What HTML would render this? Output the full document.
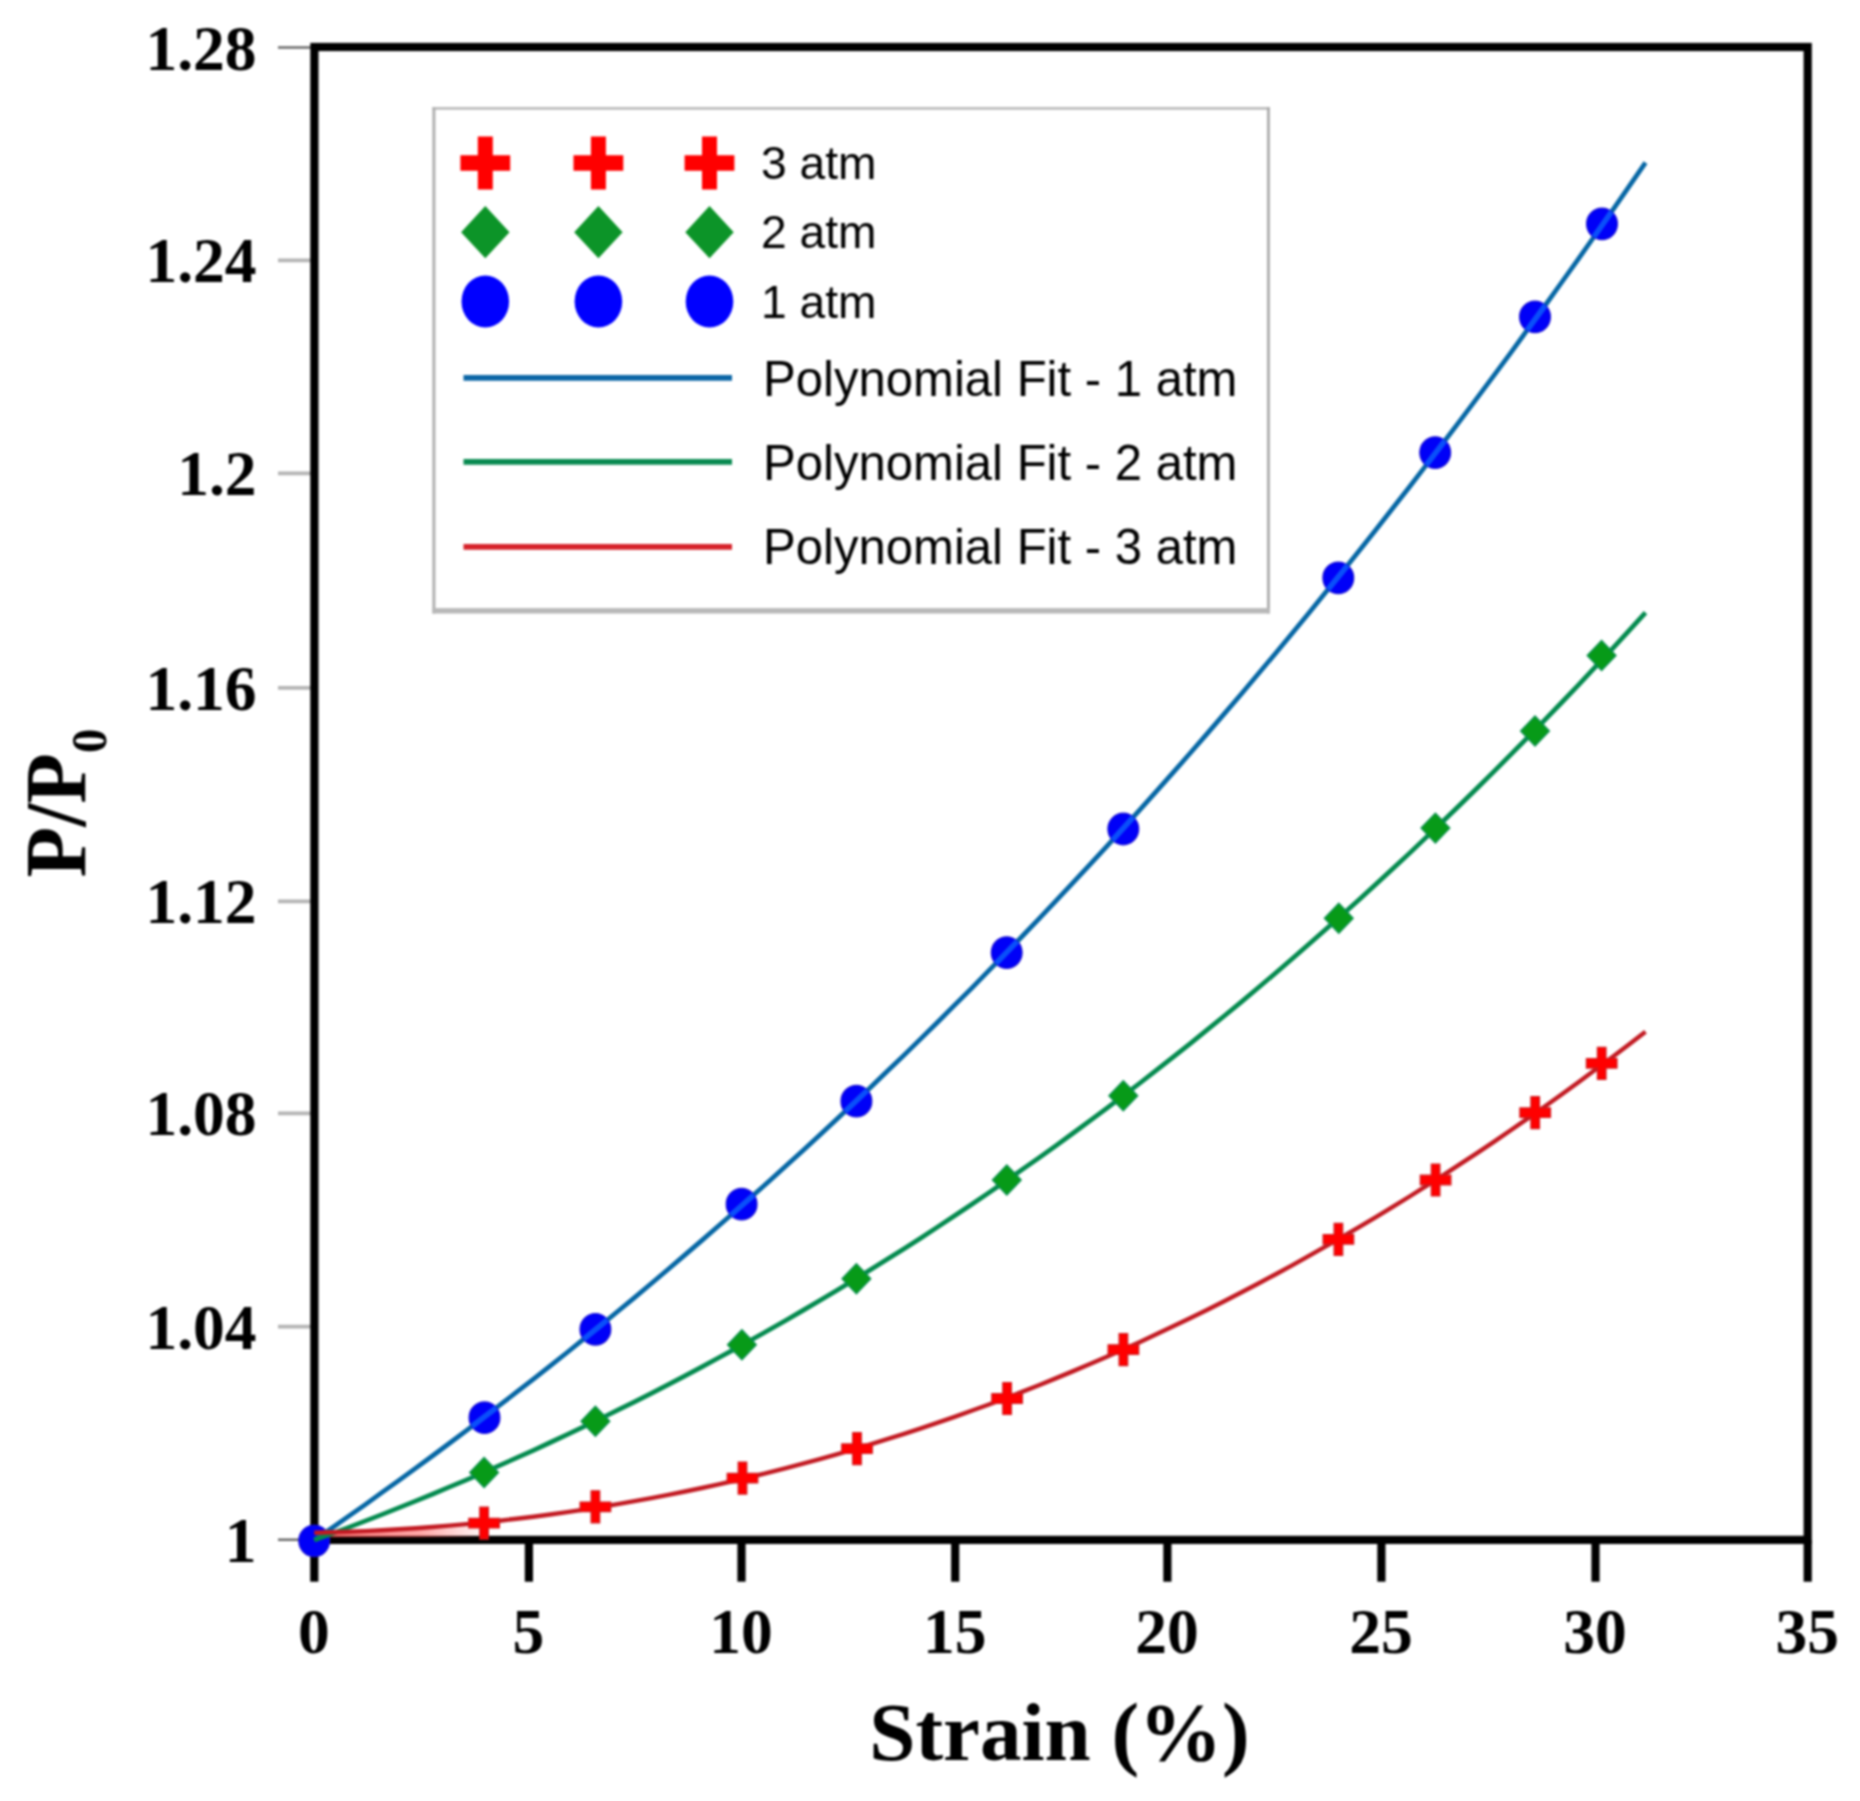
<!DOCTYPE html>
<html lang="en"><head><meta charset="utf-8"><title>P/P0 vs Strain</title>
<style>
html,body{margin:0;padding:0;background:#fff;}
body{width:1860px;height:1801px;overflow:hidden;}
svg{display:block;}
.tk{font-family:"Liberation Serif",serif;font-weight:bold;font-size:63.5px;fill:#000;}
.ax{font-family:"Liberation Serif",serif;font-weight:bold;font-size:83px;fill:#000;}
.lg{font-family:"Liberation Sans",sans-serif;font-size:46.2px;fill:#000;}
.lp{font-family:"Liberation Sans",sans-serif;font-size:50.5px;fill:#000;}
</style></head><body>
<svg width="1860" height="1801" viewBox="0 0 1860 1801">
<defs><filter id="soft" x="0" y="0" width="1860" height="1801" filterUnits="userSpaceOnUse" color-interpolation-filters="sRGB"><feGaussianBlur stdDeviation="1"/></filter></defs>
<rect x="0" y="0" width="1860" height="1801" fill="#ffffff"/>
<g filter="url(#soft)">
<rect x="0" y="0" width="1860" height="1801" fill="#ffffff"/>

<g id="yticks">
<line x1="278" y1="1539.7" x2="311" y2="1539.7" stroke="#6a6a6a" stroke-width="2.6"/>
<text class="tk" x="256.5" y="1561.7" text-anchor="end">1</text>
<line x1="278" y1="1326.7" x2="311" y2="1326.7" stroke="#b4b4b4" stroke-width="3.8"/>
<text class="tk" x="256.5" y="1348.7" text-anchor="end">1.04</text>
<line x1="278" y1="1113.3" x2="311" y2="1113.3" stroke="#b4b4b4" stroke-width="3.8"/>
<text class="tk" x="256.5" y="1135.3" text-anchor="end">1.08</text>
<line x1="278" y1="901.3" x2="311" y2="901.3" stroke="#b4b4b4" stroke-width="3.8"/>
<text class="tk" x="256.5" y="923.3" text-anchor="end">1.12</text>
<line x1="278" y1="687.8" x2="311" y2="687.8" stroke="#b4b4b4" stroke-width="3.8"/>
<text class="tk" x="256.5" y="709.8" text-anchor="end">1.16</text>
<line x1="278" y1="473.3" x2="311" y2="473.3" stroke="#b4b4b4" stroke-width="3.8"/>
<text class="tk" x="256.5" y="495.3" text-anchor="end">1.2</text>
<line x1="278" y1="260.4" x2="311" y2="260.4" stroke="#b4b4b4" stroke-width="3.8"/>
<text class="tk" x="256.5" y="282.4" text-anchor="end">1.24</text>
<line x1="278" y1="47.5" x2="311" y2="47.5" stroke="#6a6a6a" stroke-width="2.6"/>
<text class="tk" x="256.5" y="69.5" text-anchor="end">1.28</text>
</g>
<g id="xticks">
<line x1="314.3" y1="1540" x2="314.3" y2="1581.7" stroke="#000" stroke-width="8.2"/>
<text class="tk" x="313.8" y="1653" text-anchor="middle">0</text>
<line x1="528.9" y1="1540" x2="528.9" y2="1581.7" stroke="#000" stroke-width="8.2"/>
<text class="tk" x="528.4" y="1653" text-anchor="middle">5</text>
<line x1="741.5" y1="1540" x2="741.5" y2="1581.7" stroke="#000" stroke-width="8.2"/>
<text class="tk" x="741.0" y="1653" text-anchor="middle">10</text>
<line x1="955.2" y1="1540" x2="955.2" y2="1581.7" stroke="#000" stroke-width="8.2"/>
<text class="tk" x="954.7" y="1653" text-anchor="middle">15</text>
<line x1="1167.4" y1="1540" x2="1167.4" y2="1581.7" stroke="#000" stroke-width="8.2"/>
<text class="tk" x="1166.9" y="1653" text-anchor="middle">20</text>
<line x1="1381.4" y1="1540" x2="1381.4" y2="1581.7" stroke="#000" stroke-width="8.2"/>
<text class="tk" x="1380.9" y="1653" text-anchor="middle">25</text>
<line x1="1595.5" y1="1540" x2="1595.5" y2="1581.7" stroke="#000" stroke-width="8.2"/>
<text class="tk" x="1595.0" y="1653" text-anchor="middle">30</text>
<line x1="1807.7" y1="1540" x2="1807.7" y2="1581.7" stroke="#000" stroke-width="8.2"/>
<text class="tk" x="1807.2" y="1653" text-anchor="middle">35</text>
</g>
<rect x="314.4" y="47.0" width="1493.3" height="1492.9" fill="none" stroke="#000" stroke-width="8.2"/>
<text class="ax" x="1059.5" y="1760.3" text-anchor="middle">Strain (%)</text>
<text class="ax" transform="translate(85.3,877.5) rotate(-90) scale(1,1.055)" x="0" y="0">P/P<tspan font-size="48.5px" dy="19.2">0</tspan></text>
<ellipse cx="314.2" cy="1540.8" rx="15.4" ry="15.8" fill="#0000f8" stroke="#1a10d0" stroke-width="1.2"/>
<defs><linearGradient id="pk" x1="318" y1="0" x2="490" y2="0" gradientUnits="userSpaceOnUse"><stop offset="0" stop-color="#ff4848" stop-opacity="0.75"/><stop offset="0.6" stop-color="#ff5050" stop-opacity="0.5"/><stop offset="1" stop-color="#ff6060" stop-opacity="0"/></linearGradient></defs>
<path d="M318,1537.2L318,1532.5L400,1529.4L490,1523L490,1537.2z" fill="url(#pk)"/>
<path d="M314.3,1540.1 L331.2,1528.5 L348.0,1516.7 L364.9,1504.8 L381.7,1492.7 L398.6,1480.6 L415.4,1468.4 L432.3,1456.0 L449.1,1443.5 L466.0,1430.9 L482.8,1418.1 L499.7,1405.2 L516.5,1392.2 L533.4,1379.1 L550.2,1365.8 L567.1,1352.5 L583.9,1338.9 L600.8,1325.3 L617.6,1311.5 L634.5,1297.6 L651.3,1283.5 L668.2,1269.3 L685.0,1254.9 L701.9,1240.4 L718.7,1225.8 L735.6,1211.0 L752.4,1196.1 L769.3,1181.0 L786.1,1165.8 L803.0,1150.5 L819.8,1135.0 L836.7,1119.3 L853.5,1103.5 L870.4,1087.5 L887.2,1071.3 L904.1,1055.1 L920.9,1038.6 L937.8,1022.0 L954.6,1005.2 L971.5,988.3 L988.3,971.2 L1005.2,953.9 L1022.0,936.5 L1038.9,918.9 L1055.7,901.1 L1072.6,883.2 L1089.4,865.1 L1106.3,846.8 L1123.1,828.4 L1140.0,809.7 L1156.8,790.9 L1173.7,771.9 L1190.5,752.8 L1207.4,733.4 L1224.2,713.9 L1241.1,694.2 L1257.9,674.3 L1274.8,654.2 L1291.6,633.9 L1308.5,613.5 L1325.3,592.8 L1342.2,572.0 L1359.0,551.0 L1375.9,529.7 L1392.7,508.3 L1409.6,486.7 L1426.4,464.9 L1443.3,442.8 L1460.1,420.6 L1477.0,398.2 L1493.8,375.6 L1510.7,352.8 L1527.5,329.7 L1544.4,306.5 L1561.2,283.0 L1578.1,259.4 L1594.9,235.5 L1611.8,211.4 L1628.6,187.1 L1645.5,162.6" fill="none" stroke="#0566a4" stroke-width="4.7"/>
<path d="M314.3,1540.1 L331.2,1533.9 L348.0,1527.6 L364.9,1521.1 L381.7,1514.6 L398.6,1507.9 L415.4,1501.1 L432.3,1494.2 L449.1,1487.2 L466.0,1480.1 L482.8,1472.8 L499.7,1465.4 L516.5,1457.9 L533.4,1450.3 L550.2,1442.5 L567.1,1434.7 L583.9,1426.6 L600.8,1418.5 L617.6,1410.2 L634.5,1401.8 L651.3,1393.3 L668.2,1384.7 L685.0,1375.9 L701.9,1366.9 L718.7,1357.8 L735.6,1348.6 L752.4,1339.3 L769.3,1329.8 L786.1,1320.2 L803.0,1310.4 L819.8,1300.5 L836.7,1290.4 L853.5,1280.2 L870.4,1269.8 L887.2,1259.3 L904.1,1248.7 L920.9,1237.9 L937.8,1226.9 L954.6,1215.8 L971.5,1204.5 L988.3,1193.1 L1005.2,1181.5 L1022.0,1169.7 L1038.9,1157.8 L1055.7,1145.8 L1072.6,1133.5 L1089.4,1121.1 L1106.3,1108.6 L1123.1,1095.9 L1140.0,1083.0 L1156.8,1069.9 L1173.7,1056.7 L1190.5,1043.3 L1207.4,1029.7 L1224.2,1016.0 L1241.1,1002.1 L1257.9,988.0 L1274.8,973.7 L1291.6,959.3 L1308.5,944.6 L1325.3,929.8 L1342.2,914.8 L1359.0,899.7 L1375.9,884.3 L1392.7,868.8 L1409.6,853.1 L1426.4,837.1 L1443.3,821.0 L1460.1,804.7 L1477.0,788.3 L1493.8,771.6 L1510.7,754.7 L1527.5,737.7 L1544.4,720.4 L1561.2,703.0 L1578.1,685.3 L1594.9,667.4 L1611.8,649.4 L1628.6,631.1 L1645.5,612.7" fill="none" stroke="#038a4e" stroke-width="4.7"/>
<path d="M314.3,1532.7 L331.2,1532.3 L348.0,1531.8 L364.9,1531.1 L381.7,1530.3 L398.6,1529.3 L415.4,1528.2 L432.3,1527.0 L449.1,1525.6 L466.0,1524.1 L482.8,1522.5 L499.7,1520.7 L516.5,1518.7 L533.4,1516.7 L550.2,1514.5 L567.1,1512.1 L583.9,1509.6 L600.8,1507.0 L617.6,1504.2 L634.5,1501.2 L651.3,1498.1 L668.2,1494.9 L685.0,1491.5 L701.9,1488.0 L718.7,1484.3 L735.6,1480.5 L752.4,1476.5 L769.3,1472.4 L786.1,1468.1 L803.0,1463.7 L819.8,1459.1 L836.7,1454.4 L853.5,1449.5 L870.4,1444.4 L887.2,1439.2 L904.1,1433.9 L920.9,1428.3 L937.8,1422.7 L954.6,1416.8 L971.5,1410.8 L988.3,1404.7 L1005.2,1398.4 L1022.0,1391.9 L1038.9,1385.2 L1055.7,1378.4 L1072.6,1371.4 L1089.4,1364.3 L1106.3,1357.0 L1123.1,1349.5 L1140.0,1341.9 L1156.8,1334.1 L1173.7,1326.1 L1190.5,1318.0 L1207.4,1309.7 L1224.2,1301.2 L1241.1,1292.5 L1257.9,1283.7 L1274.8,1274.7 L1291.6,1265.6 L1308.5,1256.2 L1325.3,1246.7 L1342.2,1237.0 L1359.0,1227.1 L1375.9,1217.1 L1392.7,1206.9 L1409.6,1196.5 L1426.4,1185.9 L1443.3,1175.1 L1460.1,1164.2 L1477.0,1153.1 L1493.8,1141.8 L1510.7,1130.3 L1527.5,1118.6 L1544.4,1106.8 L1561.2,1094.7 L1578.1,1082.5 L1594.9,1070.1 L1611.8,1057.5 L1628.6,1044.7 L1645.5,1031.8" fill="none" stroke="#c21a22" stroke-width="4.4"/>
<g id="markers">
<path d="M479.8,1507.2h8.6v11.2h11.0v9.6h-11.0v11.2h-8.6v-11.2h-11.0v-9.6h11.0z" fill="#ff0000" stroke="#cf1a1f" stroke-width="1.2"/>
<path d="M591.1,1490.8h8.6v11.2h11.0v9.6h-11.0v11.2h-8.6v-11.2h-11.0v-9.6h11.0z" fill="#ff0000" stroke="#cf1a1f" stroke-width="1.2"/>
<path d="M738.2,1462.1h8.6v11.2h11.0v9.6h-11.0v11.2h-8.6v-11.2h-11.0v-9.6h11.0z" fill="#ff0000" stroke="#cf1a1f" stroke-width="1.2"/>
<path d="M852.7,1432.7h8.6v11.2h11.0v9.6h-11.0v11.2h-8.6v-11.2h-11.0v-9.6h11.0z" fill="#ff0000" stroke="#cf1a1f" stroke-width="1.2"/>
<path d="M1002.8,1382.5h8.6v11.2h11.0v9.6h-11.0v11.2h-8.6v-11.2h-11.0v-9.6h11.0z" fill="#ff0000" stroke="#cf1a1f" stroke-width="1.2"/>
<path d="M1119.1,1333.6h8.6v11.2h11.0v9.6h-11.0v11.2h-8.6v-11.2h-11.0v-9.6h11.0z" fill="#ff0000" stroke="#cf1a1f" stroke-width="1.2"/>
<path d="M1334.1,1223.3h8.6v11.2h11.0v9.6h-11.0v11.2h-8.6v-11.2h-11.0v-9.6h11.0z" fill="#ff0000" stroke="#cf1a1f" stroke-width="1.2"/>
<path d="M1431.3,1164.0h8.6v11.2h11.0v9.6h-11.0v11.2h-8.6v-11.2h-11.0v-9.6h11.0z" fill="#ff0000" stroke="#cf1a1f" stroke-width="1.2"/>
<path d="M1530.9,1096.7h8.6v11.2h11.0v9.6h-11.0v11.2h-8.6v-11.2h-11.0v-9.6h11.0z" fill="#ff0000" stroke="#cf1a1f" stroke-width="1.2"/>
<path d="M1597.4,1047.3h8.6v11.2h11.0v9.6h-11.0v11.2h-8.6v-11.2h-11.0v-9.6h11.0z" fill="#ff0000" stroke="#cf1a1f" stroke-width="1.2"/>
<path d="M484.1,1457.5L498.5,1472.5L484.1,1487.5L469.7,1472.5z" fill="#079a18" stroke="#089050" stroke-width="1.3"/>
<path d="M595.4,1406.2L609.8,1421.2L595.4,1436.2L581.0,1421.2z" fill="#079a18" stroke="#089050" stroke-width="1.3"/>
<path d="M741.9,1329.8L756.3,1344.8L741.9,1359.8L727.5,1344.8z" fill="#079a18" stroke="#089050" stroke-width="1.3"/>
<path d="M856.4,1263.7L870.8,1278.7L856.4,1293.7L842.0,1278.7z" fill="#079a18" stroke="#089050" stroke-width="1.3"/>
<path d="M1006.8,1165.0L1021.2,1180.0L1006.8,1195.0L992.4,1180.0z" fill="#079a18" stroke="#089050" stroke-width="1.3"/>
<path d="M1123.3,1080.8L1137.7,1095.8L1123.3,1110.8L1108.9,1095.8z" fill="#079a18" stroke="#089050" stroke-width="1.3"/>
<path d="M1338.8,903.3L1353.2,918.3L1338.8,933.3L1324.4,918.3z" fill="#079a18" stroke="#089050" stroke-width="1.3"/>
<path d="M1435.4,813.1L1449.8,828.1L1435.4,843.1L1421.0,828.1z" fill="#079a18" stroke="#089050" stroke-width="1.3"/>
<path d="M1535.0,716.0L1549.4,731.0L1535.0,746.0L1520.6,731.0z" fill="#079a18" stroke="#089050" stroke-width="1.3"/>
<path d="M1601.6,640.5L1616.0,655.5L1601.6,670.5L1587.2,655.5z" fill="#079a18" stroke="#089050" stroke-width="1.3"/>
<clipPath id="cc">
<ellipse cx="484.5" cy="1417.7" rx="15.4" ry="15.8"/>
<ellipse cx="595.4" cy="1329.3" rx="15.4" ry="15.8"/>
<ellipse cx="741.6" cy="1204.2" rx="15.4" ry="15.8"/>
<ellipse cx="856.4" cy="1101.2" rx="15.4" ry="15.8"/>
<ellipse cx="1006.7" cy="952.6" rx="15.4" ry="15.8"/>
<ellipse cx="1123.3" cy="829.0" rx="15.4" ry="15.8"/>
<ellipse cx="1338.3" cy="577.9" rx="15.4" ry="15.8"/>
<ellipse cx="1435.2" cy="452.6" rx="15.4" ry="15.8"/>
<ellipse cx="1535.0" cy="316.9" rx="15.4" ry="15.8"/>
<ellipse cx="1602.0" cy="223.9" rx="15.4" ry="15.8"/>
</clipPath>
<ellipse cx="484.5" cy="1417.7" rx="15.4" ry="15.8" fill="#0000f8" stroke="#1a10d0" stroke-width="1.2"/>
<ellipse cx="595.4" cy="1329.3" rx="15.4" ry="15.8" fill="#0000f8" stroke="#1a10d0" stroke-width="1.2"/>
<ellipse cx="741.6" cy="1204.2" rx="15.4" ry="15.8" fill="#0000f8" stroke="#1a10d0" stroke-width="1.2"/>
<ellipse cx="856.4" cy="1101.2" rx="15.4" ry="15.8" fill="#0000f8" stroke="#1a10d0" stroke-width="1.2"/>
<ellipse cx="1006.7" cy="952.6" rx="15.4" ry="15.8" fill="#0000f8" stroke="#1a10d0" stroke-width="1.2"/>
<ellipse cx="1123.3" cy="829.0" rx="15.4" ry="15.8" fill="#0000f8" stroke="#1a10d0" stroke-width="1.2"/>
<ellipse cx="1338.3" cy="577.9" rx="15.4" ry="15.8" fill="#0000f8" stroke="#1a10d0" stroke-width="1.2"/>
<ellipse cx="1435.2" cy="452.6" rx="15.4" ry="15.8" fill="#0000f8" stroke="#1a10d0" stroke-width="1.2"/>
<ellipse cx="1535.0" cy="316.9" rx="15.4" ry="15.8" fill="#0000f8" stroke="#1a10d0" stroke-width="1.2"/>
<ellipse cx="1602.0" cy="223.9" rx="15.4" ry="15.8" fill="#0000f8" stroke="#1a10d0" stroke-width="1.2"/>
<path d="M314.3,1540.1 L331.2,1528.5 L348.0,1516.7 L364.9,1504.8 L381.7,1492.7 L398.6,1480.6 L415.4,1468.4 L432.3,1456.0 L449.1,1443.5 L466.0,1430.9 L482.8,1418.1 L499.7,1405.2 L516.5,1392.2 L533.4,1379.1 L550.2,1365.8 L567.1,1352.5 L583.9,1338.9 L600.8,1325.3 L617.6,1311.5 L634.5,1297.6 L651.3,1283.5 L668.2,1269.3 L685.0,1254.9 L701.9,1240.4 L718.7,1225.8 L735.6,1211.0 L752.4,1196.1 L769.3,1181.0 L786.1,1165.8 L803.0,1150.5 L819.8,1135.0 L836.7,1119.3 L853.5,1103.5 L870.4,1087.5 L887.2,1071.3 L904.1,1055.1 L920.9,1038.6 L937.8,1022.0 L954.6,1005.2 L971.5,988.3 L988.3,971.2 L1005.2,953.9 L1022.0,936.5 L1038.9,918.9 L1055.7,901.1 L1072.6,883.2 L1089.4,865.1 L1106.3,846.8 L1123.1,828.4 L1140.0,809.7 L1156.8,790.9 L1173.7,771.9 L1190.5,752.8 L1207.4,733.4 L1224.2,713.9 L1241.1,694.2 L1257.9,674.3 L1274.8,654.2 L1291.6,633.9 L1308.5,613.5 L1325.3,592.8 L1342.2,572.0 L1359.0,551.0 L1375.9,529.7 L1392.7,508.3 L1409.6,486.7 L1426.4,464.9 L1443.3,442.8 L1460.1,420.6 L1477.0,398.2 L1493.8,375.6 L1510.7,352.8 L1527.5,329.7 L1544.4,306.5 L1561.2,283.0 L1578.1,259.4 L1594.9,235.5 L1611.8,211.4 L1628.6,187.1 L1645.5,162.6" fill="none" stroke="#0a50fa" stroke-width="5.6" clip-path="url(#cc)"/>
</g>
<g id="legend">
<rect x="432.4" y="107.2" width="837.4" height="506.3" fill="#ffffff"/>
<rect x="432.4" y="107.2" width="837.4" height="2.4" fill="#b4b4b4"/>
<rect x="432.4" y="107.2" width="3" height="506.3" fill="#b0b0b0"/>
<rect x="1267.1" y="107.2" width="2.7" height="506.3" fill="#a8a8a8"/>
<rect x="432.4" y="608.1" width="837.4" height="5.4" fill="#b8b8b8"/>
<path d="M477.8,136.4h15.0v18.8h17.4v15.6h-17.4v18.8h-15.0v-18.8h-17.4v-15.6h17.4z" fill="#ff0000"/>
<path d="M485.3,206.1L509.5,232.2L485.3,258.3L461.1,232.2z" fill="#0c9428"/>
<ellipse cx="485.3" cy="301.5" rx="23.8" ry="26" fill="#0000ff"/>
<path d="M590.9,136.4h15.0v18.8h17.4v15.6h-17.4v18.8h-15.0v-18.8h-17.4v-15.6h17.4z" fill="#ff0000"/>
<path d="M598.4,206.1L622.6,232.2L598.4,258.3L574.2,232.2z" fill="#0c9428"/>
<ellipse cx="598.4" cy="301.5" rx="23.8" ry="26" fill="#0000ff"/>
<path d="M702.0,136.4h15.0v18.8h17.4v15.6h-17.4v18.8h-15.0v-18.8h-17.4v-15.6h17.4z" fill="#ff0000"/>
<path d="M709.5,206.1L733.7,232.2L709.5,258.3L685.3,232.2z" fill="#0c9428"/>
<ellipse cx="709.5" cy="301.5" rx="23.8" ry="26" fill="#0000ff"/>
<text class="lg" x="761" y="178.5">3 atm</text>
<text class="lg" x="761" y="248.3">2 atm</text>
<text class="lg" x="761" y="317.8">1 atm</text>
<line x1="463.5" y1="377.9" x2="732" y2="377.9" stroke="#0c66a6" stroke-width="5.8"/>
<text class="lp" x="763" y="395.5" textLength="474.5" lengthAdjust="spacingAndGlyphs">Polynomial Fit - 1 atm</text>
<line x1="463.5" y1="461.9" x2="732" y2="461.9" stroke="#088a50" stroke-width="5.8"/>
<text class="lp" x="763" y="479.5" textLength="474.5" lengthAdjust="spacingAndGlyphs">Polynomial Fit - 2 atm</text>
<line x1="463.5" y1="546.8" x2="732" y2="546.8" stroke="#d6222a" stroke-width="5.8"/>
<text class="lp" x="763" y="564.4" textLength="474.5" lengthAdjust="spacingAndGlyphs">Polynomial Fit - 3 atm</text>
</g>
</g>
</svg></body></html>
